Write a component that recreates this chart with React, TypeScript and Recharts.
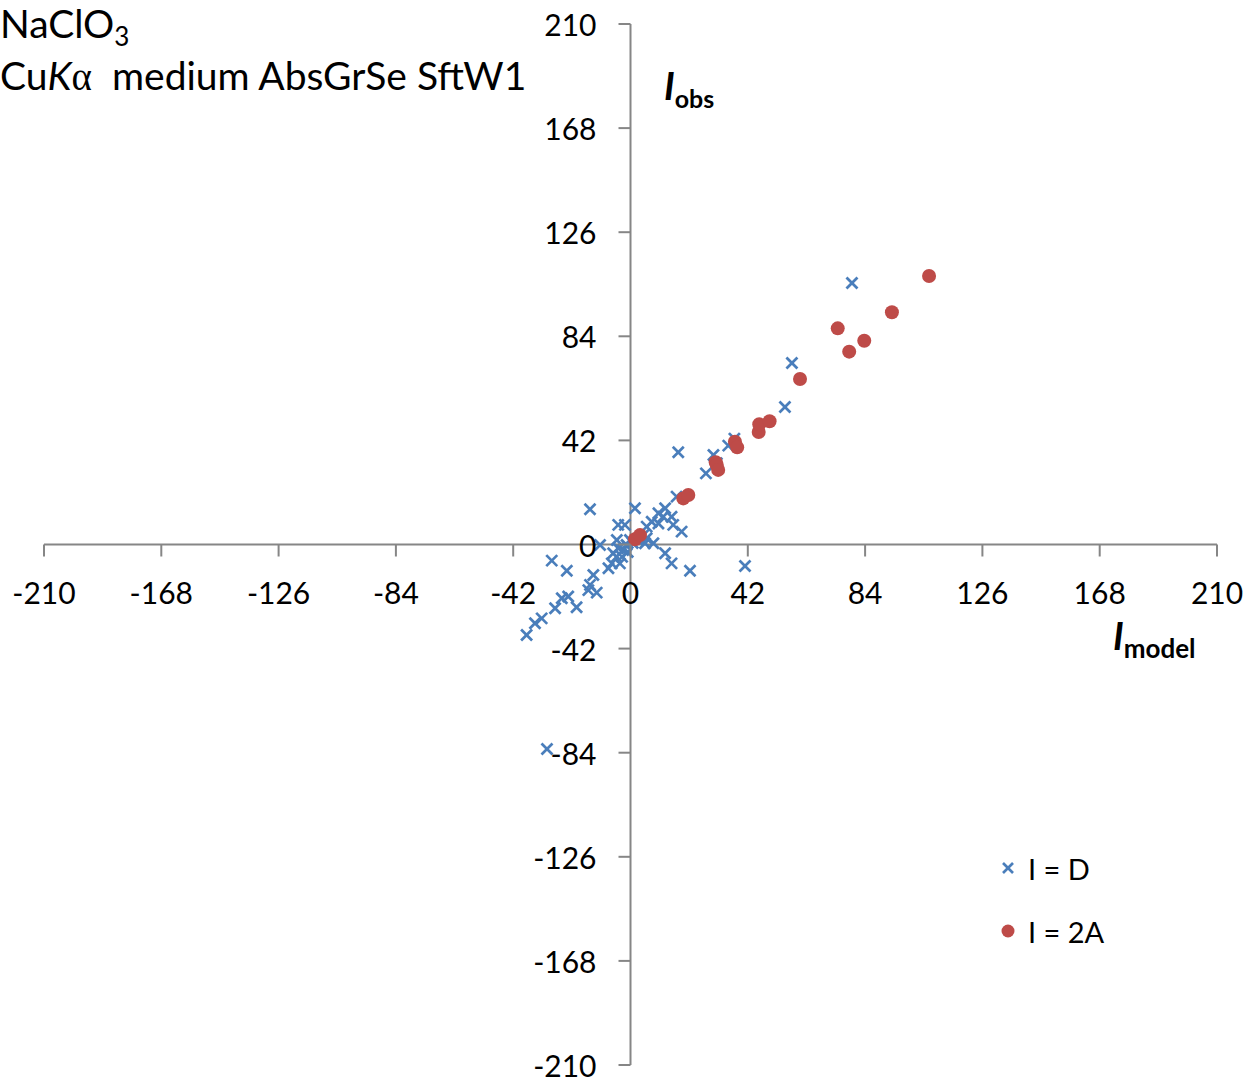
import React from "react";
import { ScatterChart, Scatter, XAxis, YAxis, ReferenceLine, Legend } from "recharts";

// I = D series (blue crosses)
const crossModel = [
  79.3, 57.8, 55.3, 17.1, 29.7, 35.0, 37.2, 30.9, 27.0, 16.5, 12.4, 11.7, 14.7, 15.3, 18.3, 10.0, 7.6, 5.8,
  4.6, 5.2, 1.6, -14.5, -4.4, -2.0, -10.9, -4.9, -4.4, -6.2, -2.6, -1.4, -6.7, -7.9, -3.8, -0.2, 12.4, 14.7,
  21.3, 41.0, -28.2, -22.8, -13.3, -14.5, -15.1, -12.1, -24.6, -22.3, -19.3, -27.0, -31.8, -34.2, -37.2, 8.2,
  5.8, 10.0, -29.9, 0.8, 2.5, -1.0, -3.0, -5.0,
];
const crossObs = [
  105.5, 73.2, 55.5, 37.2, 36.1, 39.9, 42.7, 32.8, 28.7, 19.3, 14.6, 11.2, 11.2, 7.9, 5.2, 8.5, 9.2, 7.2,
  3.8, 0.5, 14.6, 14.2, 7.9, 7.9, -0.2, 1.8, -1.5, -3.5, -2.2, -0.2, -7.6, -9.6, -7.6, 1.8, -3.5, -7.6,
  -10.6, -8.7, -6.5, -10.6, -12.3, -16.3, -18.4, -19.4, -21.7, -21.0, -25.3, -25.7, -29.8, -31.8, -36.5, 0.5,
  2.5, 12.6, -82.5, 0.6, 2.0, -3.0, -5.0, -5.0,
];

// I = 2A series (red dots)
const dotModel = [1.6, 3.4, 18.9, 20.7, 30.5, 30.9, 31.4, 37.4, 38.2, 45.9, 46.1, 49.8, 60.7, 78.3, 74.2, 83.7, 93.6, 106.9];
const dotObs = [2.1, 3.8, 18.6, 20.0, 33.2, 32.1, 30.1, 41.5, 39.2, 45.4, 48.5, 49.7, 66.8, 77.8, 87.2, 82.2, 93.7, 108.3];

const axisTicks = [-210, -168, -126, -84, -42, 0, 42, 84, 126, 168, 210];

const crossData = crossModel.map((x, i) => ({ x, y: crossObs[i] }));
const dotData = dotModel.map((x, i) => ({ x, y: dotObs[i] }));

const W = 1258;
const H = 1083;
// axes get 1px each (a 0px axis is not drawn), so the plot area is 44..1217 x 24..1065
const margin = { top: 24, right: 41, bottom: 17, left: 43 };
const plotLeft = margin.left + 1;
const plotBottom = H - margin.bottom - 1;
const midX = plotLeft + (W - margin.right - plotLeft) / 2;
const midY = margin.top + (plotBottom - margin.top) / 2;

const BLUE = "#4A7EBB";
const RED = "#BE4B48";
const AXIS = "#868686";
const FONT = "Lato, 'Open Sans', sans-serif";

const Cross = (props: any) => {
  const { cx, cy } = props;
  const s = 5.5;
  return (
    <g stroke={BLUE} strokeWidth={2.7}>
      <line x1={cx - s} y1={cy - s} x2={cx + s} y2={cy + s} />
      <line x1={cx - s} y1={cy + s} x2={cx + s} y2={cy - s} />
    </g>
  );
};

const Dot = (props: any) => {
  const { cx, cy } = props;
  return <circle cx={cx} cy={cy} r={7} fill={RED} />;
};

const XTick = (props: any) => {
  const { x, payload } = props;
  return (
    <g>
      <line x1={x} x2={x} y1={midY} y2={midY + 12} stroke={AXIS} strokeWidth={2} />
      <text x={x} y={midY + 47} textAnchor="middle" dominantBaseline="central" fontSize={30} fontFamily={FONT} fill="#000">
        {payload.value}
      </text>
    </g>
  );
};

const YTick = (props: any) => {
  const { y, payload } = props;
  return (
    <g>
      <line x1={midX - 12} x2={midX} y1={y} y2={y} stroke={AXIS} strokeWidth={2} />
      <text x={midX - 34} y={y} textAnchor="end" dominantBaseline="central" fontSize={30} fontFamily={FONT} fill="#000">
        {payload.value}
      </text>
    </g>
  );
};

const LegendContent = () => (
  <div style={{ fontFamily: FONT, fontSize: 29, color: "#000" }}>
    <div style={{ display: "flex", alignItems: "center", height: 40 }}>
      <svg width={24} height={24}>
        <g stroke={BLUE} strokeWidth={2.6}>
          <line x1={7} y1={7} x2={17} y2={17} />
          <line x1={7} y1={17} x2={17} y2={7} />
        </g>
      </svg>
      <span style={{ marginLeft: 8 }}>I = D</span>
    </div>
    <div style={{ display: "flex", alignItems: "center", height: 40, marginTop: 23 }}>
      <svg width={24} height={24}>
        <circle cx={12} cy={12} r={6.5} fill={RED} />
      </svg>
      <span style={{ marginLeft: 8 }}>I = 2A</span>
    </div>
  </div>
);

export default function App() {
  return (
    <div style={{ position: "absolute", left: 0, top: 0, width: W, height: H, background: "#fff" }}>
      <ScatterChart width={W} height={H} margin={margin}>
        <XAxis
          type="number"
          dataKey="x"
          domain={[-210, 210]}
          ticks={axisTicks}
          interval={0}
          height={1}
          axisLine={false}
          tickLine={false}
          tick={(p: any) => <XTick {...p} />}
        />
        <YAxis
          type="number"
          dataKey="y"
          domain={[-210, 210]}
          ticks={axisTicks}
          interval={0}
          width={1}
          axisLine={false}
          tickLine={false}
          tick={(p: any) => <YTick {...p} />}
        />
        <ReferenceLine y={0} stroke={AXIS} strokeWidth={2} />
        <ReferenceLine x={0} stroke={AXIS} strokeWidth={2} />
        <Legend
          layout="vertical"
          align="center"
          verticalAlign="middle"
          content={<LegendContent />}
          wrapperStyle={{ position: "absolute", left: 996, top: 848, width: "auto" }}
        />
        <Scatter name="I = D" data={crossData} shape={<Cross />} isAnimationActive={false} />
        <Scatter name="I = 2A" data={dotData} shape={<Dot />} isAnimationActive={false} />
      </ScatterChart>

      <div style={{ position: "absolute", left: 0, top: -3, fontFamily: FONT, fontSize: 39, lineHeight: "52px", color: "#000", whiteSpace: "nowrap" }}>
        <div>
          NaClO<sub style={{ fontSize: 26, verticalAlign: "-8px", lineHeight: 0 }}>3</sub>
        </div>
        <div>
          Cu<i>K</i>
          <span style={{ fontFamily: "'Liberation Serif', serif" }}>α</span>&nbsp; medium AbsGrSe SftW1
        </div>
      </div>

      <div style={{ position: "absolute", left: 664, top: 62, fontFamily: FONT, fontWeight: 700, color: "#000", whiteSpace: "nowrap" }}>
        <i style={{ fontSize: 38 }}>I</i>
        <span style={{ fontSize: 25, position: "relative", top: 8 }}>obs</span>
      </div>
      <div style={{ position: "absolute", left: 1113, top: 612, fontFamily: FONT, fontWeight: 700, color: "#000", whiteSpace: "nowrap" }}>
        <i style={{ fontSize: 38 }}>I</i>
        <span style={{ fontSize: 26, position: "relative", top: 8 }}>model</span>
      </div>
    </div>
  );
}
